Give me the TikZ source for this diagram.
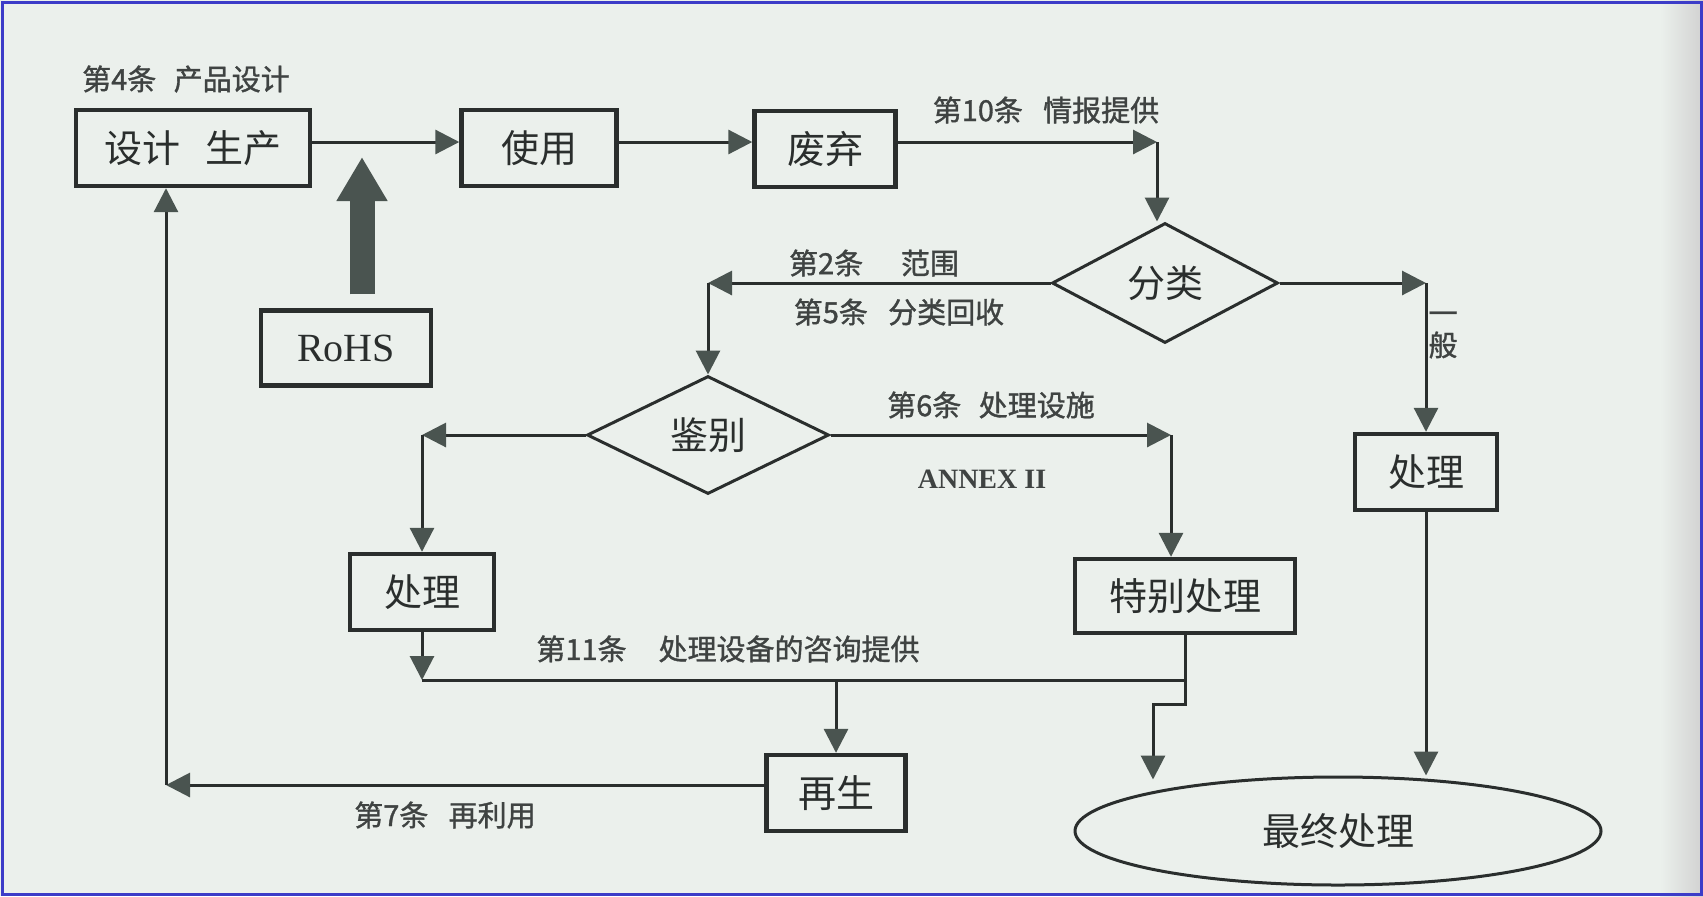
\documentclass[tikz,border=0pt]{standalone}
\usepackage{fontspec}
\setmainfont{Liberation Serif}
\newfontfamily\cjk{Noto Sans CJK SC}
\newfontfamily\cjknote[FakeBold=1.2]{Noto Sans CJK SC}
\usetikzlibrary{shapes.geometric, arrows.meta}

\definecolor{paper}{RGB}{235,240,236}
\definecolor{ink}{RGB}{42,46,45}
\definecolor{tipgray}{RGB}{74,84,80}
\definecolor{frameblue}{RGB}{60,60,200}

\tikzset{
  box/.style={draw=ink, line width=2.2pt, minimum height=38pt, inner sep=0pt,
    text=ink, font=\cjk\fontsize{19}{22}\selectfont},
  decide/.style={draw=ink, diamond, line width=1.5pt, inner sep=0pt,
    text=ink, font=\cjk\fontsize{19}{22}\selectfont},
  note/.style={text=ink!90, font=\cjknote\fontsize{14.5}{16}\selectfont},
  flow/.style={draw=ink, line width=1.5pt,
    -{Triangle[length=12pt, width=12pt, color=tipgray]}},
  wire/.style={draw=ink, line width=1.5pt},
  push/.style={draw=tipgray, line width=12.5pt,
    -{Triangle[length=22pt, width=24pt]}},
}

\begin{document}
\begin{tikzpicture}[x=0.5pt, y=-0.5pt]

  % Page
  \fill[paper] (0,0) rectangle (1703,896);
  \shade[left color=paper, right color=black!18] (1660,0) rectangle (1703,896);
  \draw[frameblue, line width=1.5pt] (2,2) rectangle (1701,894);
  \useasboundingbox (0,0) rectangle (1703,896);

  % Define nodes
  \node[box, minimum width=117pt] (design) at (193,148) {设计\hspace{0.65em}生产};
  \node[box, minimum width=77.5pt] (use) at (539,148) {使用};
  \node[box, minimum width=70.5pt] (discard) at (825,149) {废弃};
  \node[decide, minimum width=113pt, minimum height=60pt] (sort) at (1165,283) {分类};
  \node[decide, minimum width=121pt, minimum height=59pt] (ident) at (708,435) {鉴别};
  \node[box, minimum width=71pt] (treatR) at (1426,472) {处理};
  \node[box, minimum width=72pt] (treatL) at (422,592) {处理};
  \node[box, minimum width=110pt, minimum height=37pt] (special) at (1185,596) {特别处理};
  \node[box, minimum width=69.5pt] (regen) at (836,793) {再生};
  \node[box, ellipse, line width=1.5pt, minimum width=263pt, minimum height=54pt] (final) at (1338,831) {最终处理};
  \node[box, minimum width=85pt, minimum height=37.5pt, font=\fontsize{20}{24}\selectfont] (rohs) at (346,348) {RoHS};
  \coordinate (rohsin) at (362,157);
  \coordinate (top) at (1157,142);
  \coordinate (spin) at (1171,435);
  \coordinate (bus) at (836,680);
  \coordinate (jog) at (1153,704);
  \coordinate (back) at (166,785);

  % Labels
  \node[note] (art4) at (186,79) {第4条\hspace{0.6em}产品设计};
  \node[note] (art10) at (1046,110) {第10条\hspace{0.7em}情报提供};
  \node[note] (art2) at (874,263) {第2条\hspace{1.3em}范围};
  \node[note] (art5) at (899,312) {第5条\hspace{0.7em}分类回收};
  \node[note, align=center] (general) at (1443,335) {一\\般};
  \node[note] (art6) at (991,405) {第6条\hspace{0.6em}处理设施};
  \node[text=ink!90, font=\bfseries\fontsize{14}{17}\selectfont] (annex) at (982,479) {ANNEX II};
  \node[note] (art11) at (728,649) {第11条\hspace{1.1em}处理设备的咨询提供};
  \node[note] (art7) at (445,815) {第7条\hspace{0.7em}再利用};

  % Connect the nodes
  \draw[flow] (design.east |- top) -- (use.west |- top);
  \draw[flow] (use.east |- top) -- (discard.west |- top);
  \draw[flow] (discard.east |- top) -- (top);
  \draw[flow] (top) -- (top |- sort.north);
  \draw[flow] (sort) -- (sort -| ident);
  \draw[flow] (sort -| ident) -- (ident);
  \draw[flow] (sort) -- (sort -| treatR);
  \draw[flow] (sort -| treatR) -- (treatR);
  \draw[flow] (ident) -- (ident -| treatL);
  \draw[flow] (ident -| treatL) -- (treatL);
  \draw[flow] (ident) -- (spin);
  \draw[flow] (spin) -- (spin |- special.north);
  \draw[flow] (treatL) -- (treatL |- bus);
  \draw[wire] (treatL |- bus) -- (special |- bus);
  \draw[flow] (bus) -- (regen);
  \draw[flow] (special) -- (special |- jog) -- (jog) -- ([yshift=-2pt]jog |- final.north);
  \draw[flow] (treatR) -- (treatR |- final.north);
  \draw[flow] (regen.west |- back) -- (back);
  \draw[flow] (back) -- (design.south -| back);
  \draw[push, shorten <=7pt] (rohs.north -| rohsin) -- (rohsin);

\end{tikzpicture}
\end{document}
